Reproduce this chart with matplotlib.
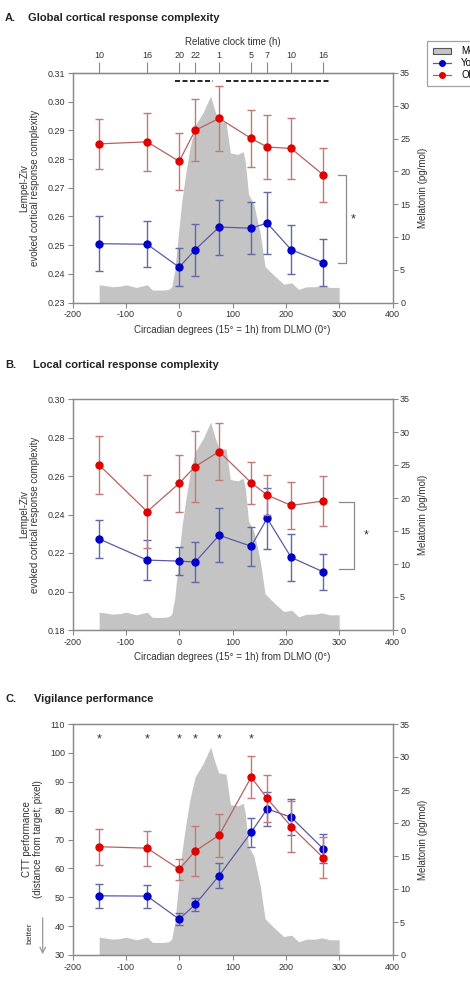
import numpy as np
import matplotlib
matplotlib.use("Agg")
import matplotlib.pyplot as plt
from matplotlib.patches import Patch
from matplotlib.lines import Line2D

plt.rcParams['font.family'] = ['Liberation Sans', 'DejaVu Sans']
plt.rcParams['axes.unicode_minus'] = False

# circadian phase of the test sessions (deg from DLMO)
phase = [-150, -60, 0, 30, 75, 135, 165, 210, 270]
clock_labels = ['10', '16', '20', '22', '1', '5', '7', '10', '16']

# melatonin profile (pg/ml)
mel_x = [-150, -140, -125, -110, -100, -90, -80, -70, -60, -50, -40, -30, -20, -14,
         -8, -2, 5, 12, 20, 30, 45, 59, 66, 74, 88, 96, 110, 120, 124, 130, 140,
         152, 161, 177, 196, 211, 224, 239, 255, 267, 283, 300]
mel_y = [2.7, 2.6, 2.4, 2.5, 2.7, 2.5, 2.3, 2.5, 2.7, 1.9, 1.9, 1.9, 2.0, 2.4,
         5.0, 10.0, 15.5, 19.5, 23.5, 27.0, 29.0, 31.5, 29.5, 27.6, 27.4, 22.8, 22.6, 23.0, 21.5, 16.5, 15.0,
         10.5, 5.5, 4.2, 2.8, 3.0, 2.0, 2.4, 2.4, 2.6, 2.3, 2.3]

# A. global complexity
a_old = [0.2853, 0.2860, 0.2792, 0.2900, 0.2942, 0.2872, 0.2842, 0.2837, 0.2745]
a_old_err = [0.0088, 0.0100, 0.0100, 0.0108, 0.0113, 0.0098, 0.0110, 0.0105, 0.0095]
a_young = [0.2505, 0.2503, 0.2423, 0.2484, 0.2563, 0.2559, 0.2577, 0.2484, 0.2439]
a_young_err = [0.0095, 0.0080, 0.0067, 0.0090, 0.0096, 0.0091, 0.0108, 0.0085, 0.0082]

# B. local complexity
b_old = [0.2657, 0.2415, 0.2562, 0.2649, 0.2727, 0.2565, 0.2501, 0.2447, 0.2470]
b_old_err = [0.0152, 0.0190, 0.0148, 0.0183, 0.0146, 0.0108, 0.0104, 0.0120, 0.0128]
b_young = [0.2273, 0.2163, 0.2158, 0.2153, 0.2292, 0.2235, 0.2380, 0.2177, 0.2102]
b_young_err = [0.0097, 0.0103, 0.0074, 0.0105, 0.0140, 0.0101, 0.0160, 0.0120, 0.0092]

# C. vigilance (CTT)
c_old = [67.5, 67.0, 59.7, 66.0, 71.5, 91.6, 84.2, 74.5, 63.7]
c_old_err = [6.3, 6.1, 3.6, 8.8, 7.4, 7.3, 8.2, 9.0, 7.0]
c_young = [50.5, 50.4, 42.4, 47.5, 57.5, 72.5, 80.6, 77.7, 66.8]
c_young_err = [4.2, 4.0, 2.1, 2.4, 4.2, 5.0, 6.0, 6.2, 5.0]
c_star_x = [-150, -60, 0, 30, 75, 135]

GREY = '#8a8a8a'
TXT = '#333333'
FILL = '#c4c4c4'
RED_M, RED_L, RED_E = '#e00000', '#b86060', '#c47878'
BLU_M, BLU_L, BLU_E = '#0000c8', '#5a5aa8', '#6068a8'

W, H = 470, 991
fig = plt.figure(figsize=(W / 100, H / 100), dpi=100)


def axes_px(top, bottom, left=72.5, right=392.5):
    return fig.add_axes([left / W, 1 - bottom / H, (right - left) / W, (bottom - top) / H])


def style(ax):
    for s in ax.spines.values():
        s.set_color(GREY)
        s.set_linewidth(0.9)
    ax.tick_params(direction='out', length=3.5, width=0.8, color=GREY,
                   labelsize=6.5, labelcolor=TXT, pad=2)


def panel(top, bottom, ylim, yticks, yfmt, old, old_err, young, young_err, ylabel):
    ax = axes_px(top, bottom)
    mx = ax.twinx()
    mx.fill_between(mel_x, 0, mel_y, color=FILL, lw=0)
    mx.set_ylim(0, 35)
    mx.set_yticks(range(0, 36, 5))
    mx.set_ylabel('Melatonin (pg/mol)', fontsize=7, color=TXT, labelpad=6)
    ax.set_zorder(mx.get_zorder() + 1)
    ax.patch.set_visible(False)

    for y, e, mc, lc, ec in [(young, young_err, BLU_M, BLU_L, BLU_E),
                             (old, old_err, RED_M, RED_L, RED_E)]:
        ax.errorbar(phase, y, yerr=e, fmt='none', ecolor=ec, elinewidth=1,
                    capsize=3, capthick=1)
        ax.plot(phase, y, '-', color=lc, lw=0.9)
        ax.plot(phase, y, 'o', color=mc, ms=5, mec=mc)

    ax.set_xlim(-200, 400)
    ax.set_xticks(range(-200, 401, 100))
    ax.set_ylim(*ylim)
    ax.set_yticks(yticks)
    ax.set_yticklabels([yfmt.format(v) for v in yticks])
    ax.set_ylabel(ylabel, fontsize=7, color=TXT, labelpad=5, linespacing=1.1)
    style(ax)
    style(mx)
    return ax, mx


xlab = 'Circadian degrees (15\u00b0 = 1h) from DLMO (0\u00b0)'

# ---- A
axA, mA = panel(73, 302.5, (0.23, 0.31), np.arange(0.23, 0.3101, 0.01), '{:.2f}',
                a_old, a_old_err, a_young, a_young_err,
                'Lempel-Ziv\nevoked cortical response complexity')
axA.set_xlabel(xlab, fontsize=7, color=TXT, labelpad=4)
top = axA.secondary_xaxis('top')
top.set_xticks(phase)
top.set_xticklabels(clock_labels)
top.tick_params(direction='out', length=8, width=0.8, color=GREY, labelsize=6.5,
                labelcolor=TXT, pad=1)
top.spines['top'].set_color(GREY)
top.set_xlabel('Relative clock time (h)', fontsize=7, color=TXT, labelpad=5)
axA.plot([-7, 64], [0.3073, 0.3073], color='black', lw=1.2, ls=(0, (3, 1.5)))
axA.plot([87, 280], [0.3073, 0.3073], color='black', lw=1.2, ls=(0, (3, 1.5)))
axA.plot([298, 312, 312, 298], [0.2745, 0.2745, 0.2437, 0.2437], color=GREY, lw=0.9)
axA.text(327, 0.259, '*', fontsize=9, ha='center', va='center', color=TXT)

# ---- B
axB, mB = panel(399, 630, (0.18, 0.30), np.arange(0.18, 0.3001, 0.02), '{:.2f}',
                b_old, b_old_err, b_young, b_young_err,
                'Lempel-Ziv\nevoked cortical response complexity')
axB.set_xlabel(xlab, fontsize=7, color=TXT, labelpad=4)
axB.plot([299, 328, 328, 299], [0.2463, 0.2463, 0.2118, 0.2118], color=GREY, lw=0.9)
axB.text(350, 0.229, '*', fontsize=9, ha='center', va='center', color=TXT)

# ---- C
axC, mC = panel(724, 955, (30, 110), range(30, 111, 10), '{:d}',
                c_old, c_old_err, c_young, c_young_err,
                'CTT performance\n(distance from target; pixel)')
for sx in c_star_x:
    axC.text(sx, 104.5, '*', fontsize=9, ha='center', va='center', color=TXT)
fig.text(30 / W, 1 - 933 / H, 'better', rotation=90, fontsize=6, color=TXT,
         ha='center', va='center')
fig.add_artist(matplotlib.patches.FancyArrowPatch(
    (42.7 / W, 1 - 915 / H), (42.7 / W, 1 - 957 / H), transform=fig.transFigure,
    arrowstyle='->', mutation_scale=10, color='#999999', lw=0.9))

# ---- titles
for y, letter, x2, txt in [(18, 'A.', 28, 'Global cortical response complexity'),
                           (365, 'B.', 33, 'Local cortical response complexity'),
                           (699, 'C.', 34, 'Vigilance performance')]:
    fig.text(5 / W, 1 - y / H, letter, fontsize=8, fontweight='bold', va='center', color='#222222')
    fig.text(x2 / W, 1 - y / H, txt, fontsize=8, fontweight='bold', va='center', color='#222222')

# ---- legend (cut at the figure edge as in the original)
handles = [Patch(facecolor=FILL, edgecolor='#555555', lw=0.8),
           Line2D([], [], color=BLU_L, marker='o', ms=4, mfc=BLU_M, mec=BLU_M, lw=0.9),
           Line2D([], [], color=RED_L, marker='o', ms=4, mfc=RED_M, mec=RED_M, lw=0.9)]
leg = fig.legend(handles, ['Melatonin', 'Young', 'Older'], loc='upper left',
                 bbox_to_anchor=(427 / W, 1 - 40.5 / H), fontsize=7, frameon=True,
                 fancybox=False, edgecolor=GREY, handlelength=1.9, borderpad=0.6,
                 labelspacing=0.2, handletextpad=1.0, borderaxespad=0)
leg.get_frame().set_linewidth(0.9)

fig.savefig('out.png', dpi=100)
